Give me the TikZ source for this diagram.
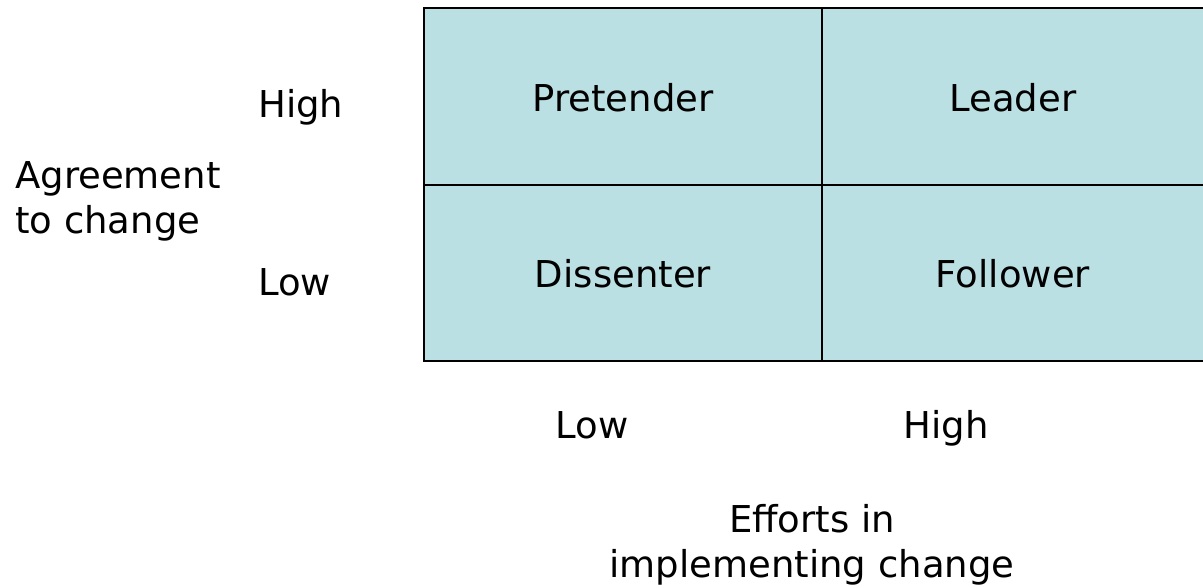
\documentclass[tikz,border=0pt]{standalone}
\usepackage{fontspec}
\setmainfont{DejaVu Sans}
\definecolor{cellfill}{HTML}{BBE0E3}
\begin{document}
\begin{tikzpicture}[x=1pt,y=-1pt,
  every node/.style={font=\fontsize{37}{45}\selectfont, inner sep=0pt},
  cell/.style={draw=black, line width=2pt, fill=cellfill, minimum width=#1, minimum height=176.5pt, anchor=north west},
  lbl/.style={align=left, anchor=base west},
  clbl/.style={anchor=base}]
\useasboundingbox (0,0) rectangle (1203,587);
\node[cell=398pt] (pre) at (423,7) {};
\node[cell=382pt] (lea) at (821,7) {};
\node[cell=398pt] (dis) at (423,183.5) {};
\node[cell=382pt] (fol) at (821,183.5) {};
\node[clbl] (tpre) at (pre.center |- 0,111) {Pretender};
\node[clbl] (tlea) at (lea.center |- 0,111) {Leader};
\node[clbl] (tdis) at (dis.center |- 0,287) {Dissenter};
\node[clbl] (tfol) at (fol.center |- 0,287) {Follower};
\node[lbl] (yh) at (258,117) {High};
\node[lbl] (yl) at (258,295) {Low};
\node[align=left, anchor=west] (ya) at (15,201) {Agreement\\to change};
\node[clbl] (xl) at (592,438) {Low};
\node[clbl] (xh) at (946,438) {High};
\node[align=center] (xa) at (812,545) {Efforts in\\implementing change};
\end{tikzpicture}
\end{document}
